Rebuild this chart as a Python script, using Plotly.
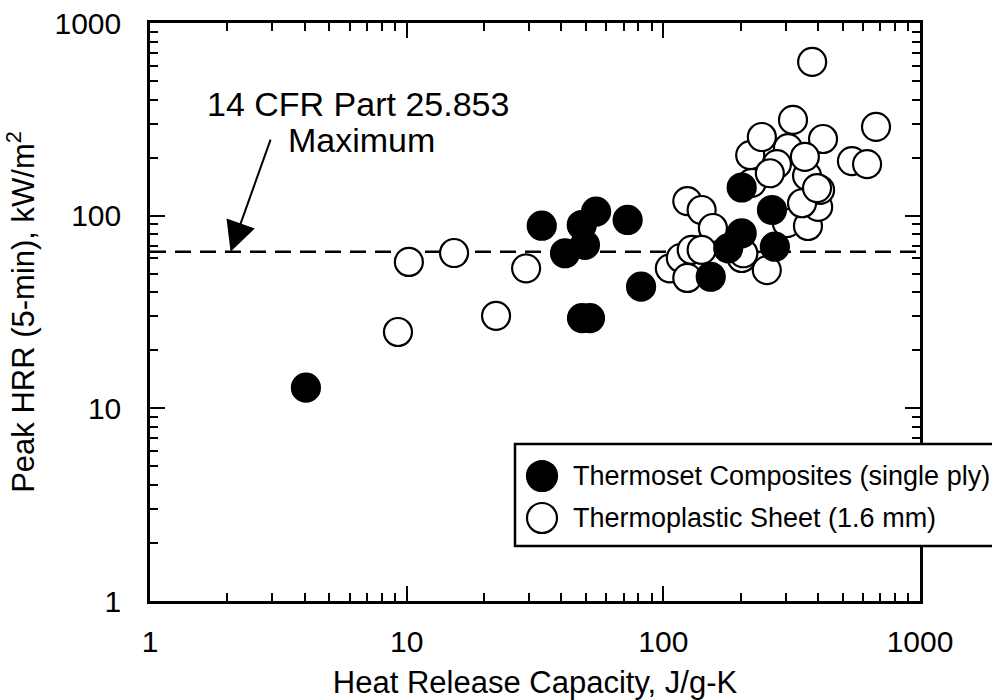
import math
import plotly.graph_objects as go

# ---- data ----
thermoset_hrc = [4.05, 33.6, 41.4, 49.5, 48.1, 54.7, 72.6, 81.9, 48.2, 51.8,
                 153, 179, 202, 202, 265, 272]
thermoset_phrr = [12.8, 88.7, 63.8, 70.5, 89.4, 105, 95, 42.8, 29.4, 29.4,
                  48.2, 67.7, 81.0, 140, 107, 69]

thermoplastic_hrc = [9.25, 10.2, 15.3, 22.3, 29.2, 106, 117, 124, 129, 124,
                     141, 156, 141, 202, 253, 303, 366, 401, 408, 347,
                     363, 221, 218, 242, 320, 419, 306, 356, 277, 260,
                     543, 622, 674, 380, 397, 205]
thermoplastic_phrr = [24.9, 57.5, 64.0, 30.2, 53.3, 53.3, 60.3, 47.5, 66.4, 119,
                      107, 86.3, 66.4, 60.3, 52.2, 91.6, 88.4, 111, 136, 116,
                      161, 148, 206, 256, 314, 250, 224, 202, 185, 166,
                      192, 185, 289, 628, 139, 63.8]

limit_value = 65
arrow_tip_hrc = 2.06          # where the arrow meets the limit line
axis_range = [1, 1000]
tick_values = [1, 10, 100, 1000]
tick_labels = ["1", "10", "100", "1000"]
minor_tick_values = [m * d for d in (1, 10, 100) for m in range(2, 10)]

legend_labels = ["Thermoset Composites (single ply)", "Thermoplastic Sheet (1.6 mm)"]
annotation_lines = ["14 CFR Part 25.853", "Maximum"]

FONT = "Liberation Sans, Arial, Helvetica, sans-serif"

fig = go.Figure()

# regulatory limit line
fig.add_trace(go.Scatter(
    x=axis_range, y=[limit_value, limit_value], mode="lines",
    line=dict(color="black", width=2.5, dash="16px,9px"),
    showlegend=False, hoverinfo="skip", cliponaxis=False))

fig.add_trace(go.Scatter(
    x=thermoplastic_hrc, y=thermoplastic_phrr, mode="markers",
    name=legend_labels[1], showlegend=False,
    marker=dict(symbol="circle", size=28, color="white",
                line=dict(color="black", width=2.2))))

fig.add_trace(go.Scatter(
    x=thermoset_hrc, y=thermoset_phrr, mode="markers",
    name=legend_labels[0], showlegend=False,
    marker=dict(symbol="circle", size=28, color="black",
                line=dict(color="black", width=2.2))))

axis_common = dict(
    type="log", showgrid=False, zeroline=False,
    showline=True, linecolor="black", linewidth=2.5, mirror="allticks",
    ticks="inside", ticklen=15, tickwidth=2, tickcolor="black",
    tickvals=tick_values, ticktext=tick_labels,
    tickfont=dict(family=FONT, size=30, color="black"),
    minor=dict(ticks="inside", ticklen=8, tickwidth=2, tickcolor="black",
               tickvals=minor_tick_values, showgrid=False),
)

fig.update_xaxes(**axis_common, range=[0, 3], ticklabelstandoff=12,
                 title=dict(text="Heat Release Capacity, J/g-K",
                            font=dict(family=FONT, size=31, color="black"),
                            standoff=20))
fig.update_yaxes(**axis_common, range=[0, 3], ticklabelstandoff=20,
                 title=dict(text="Peak HRR (5-min), kW/m<sup>2</sup>",
                            font=dict(family=FONT, size=31, color="black"),
                            standoff=11))

W, H = 992, 700
L, R, T, B = 150, 72, 23, 99
pw, ph = W - L - R, H - T - B


def px_x(p):
    return (p - L) / pw


def px_y(p):
    return (H - B - p) / ph


annotations = [
    dict(text=annotation_lines[0], xref="paper", yref="paper",
         x=px_x(205), y=px_y(104), xanchor="left", yanchor="middle",
         showarrow=False, font=dict(family=FONT, size=34, color="black")),
    # "Maximum" carries the arrow that points at the limit line
    dict(text=annotation_lines[1], x=math.log10(arrow_tip_hrc),
         y=math.log10(limit_value), xref="x", yref="y",
         ax=40, ay=-112, axref="pixel", ayref="pixel",
         xanchor="left", yanchor="middle", borderpad=16,
         showarrow=True, arrowhead=2, arrowsize=3.0, arrowwidth=2,
         arrowcolor="black",
         font=dict(family=FONT, size=34, color="black")),
]

# legend (drawn manually to match the large symbols); right side runs off the page
leg_x0, leg_x1, leg_y0, leg_y1 = 515, 998, 444, 546
shapes = [
    dict(type="rect", xref="paper", yref="paper",
         x0=px_x(leg_x0), x1=px_x(leg_x1), y0=px_y(leg_y1), y1=px_y(leg_y0),
         line=dict(color="black", width=2.5), fillcolor="white", layer="above"),
]
legend_rows = [(476, "black"), (518, "white")]
for (cy, fill), label in zip(legend_rows, legend_labels):
    shapes.append(dict(type="circle", xref="paper", yref="paper",
                       xsizemode="pixel", ysizemode="pixel",
                       xanchor=px_x(542), yanchor=px_y(cy),
                       x0=-15, x1=15, y0=-15, y1=15,
                       line=dict(color="black", width=2.2), fillcolor=fill,
                       layer="above"))
    annotations.append(dict(text=label, xref="paper", yref="paper",
                            x=px_x(571), y=px_y(cy), xanchor="left",
                            yanchor="middle", showarrow=False,
                            font=dict(family=FONT, size=27, color="black")))

fig.update_layout(
    width=W, height=H,
    margin=dict(l=L, r=R, t=T, b=B, autoexpand=False),
    paper_bgcolor="white", plot_bgcolor="white",
    showlegend=False,
    annotations=annotations, shapes=shapes,
    font=dict(family=FONT, color="black"),
)

fig.write_html("out.html", config={"displayModeBar": False})
